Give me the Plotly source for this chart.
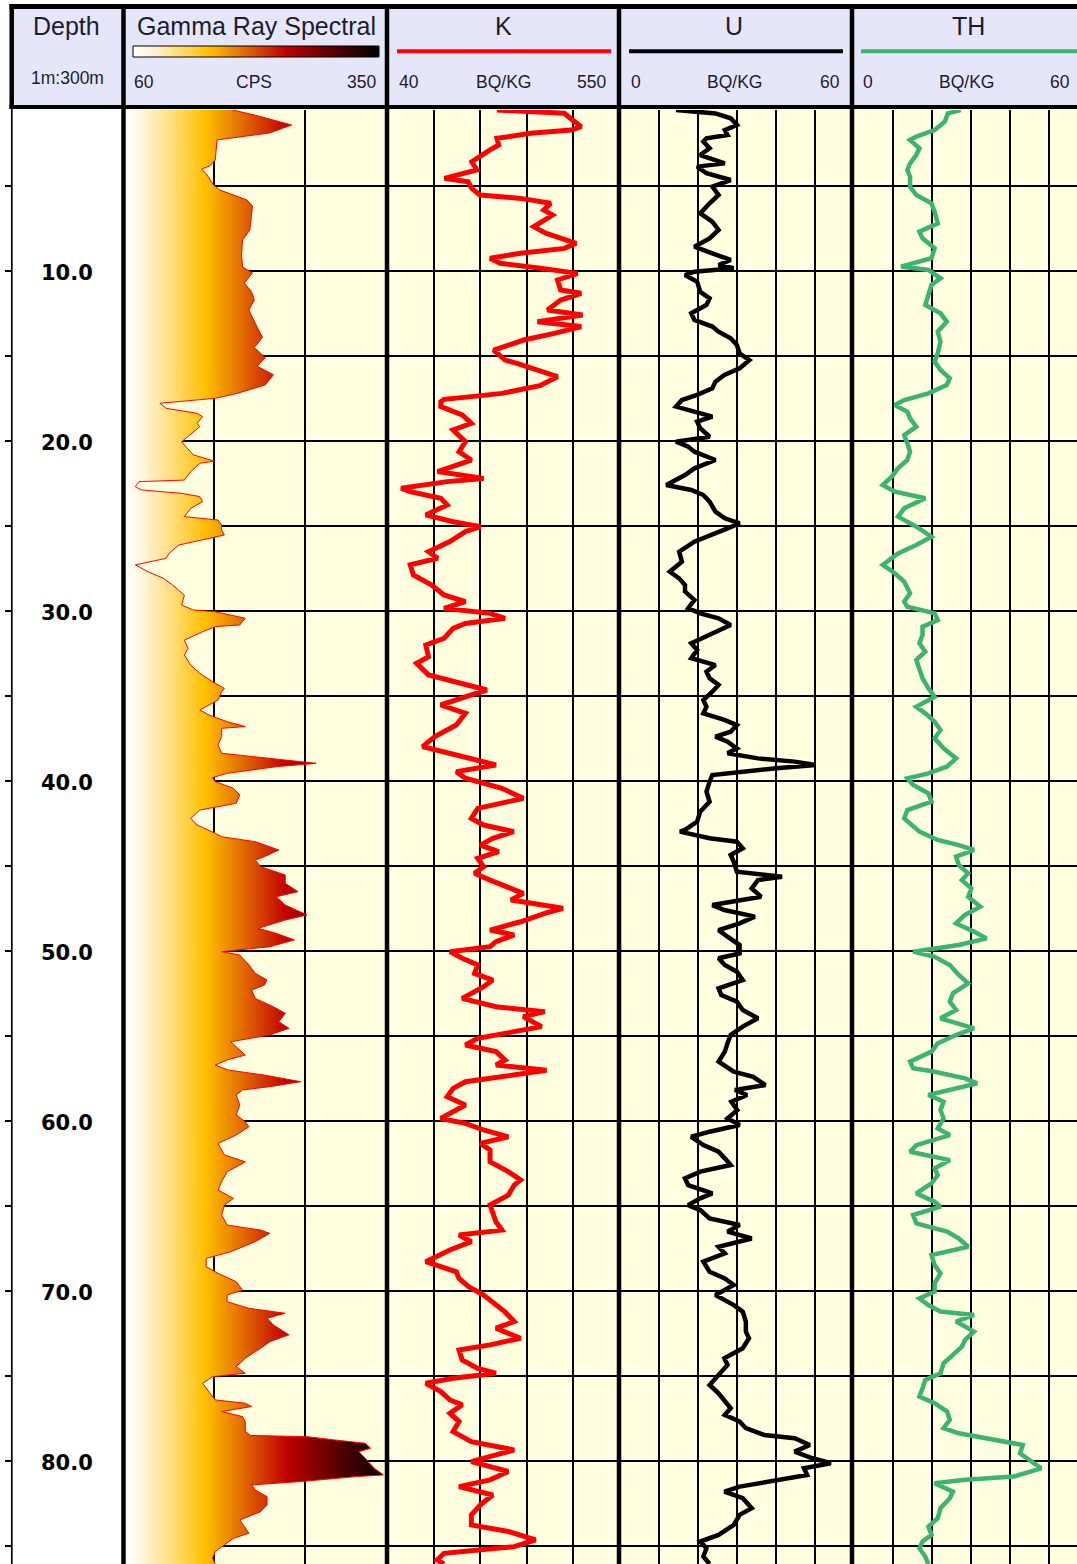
import plotly.graph_objects as go

W, H = 1077, 1564

# ---------------- data ----------------
depth_labels = [10, 20, 30, 40, 50, 60, 70, 80]
depth_top, depth_bottom = 0.53, 86.06

gr_depth = [0.53, 0.82, 1.41, 1.88, 2.29, 2.88, 3.47, 3.82, 4.0, 4.35, 4.94, 5.24, 5.82, 6.18, 7.0, 7.59, 8.18, 9.06, 9.76, 10.12,
            10.7, 11.24, 11.7, 12.3, 13.3, 13.9, 14.5, 15.1, 15.6, 16.1, 16.7, 17.2, 17.49, 17.65, 17.78, 18.08, 18.37, 18.57, 18.96, 19.16,
            19.45, 20.04, 20.24, 20.82, 21.18, 21.31, 21.8, 22.3, 22.39, 22.69, 22.88, 23.08, 23.27, 23.57, 23.96, 24.45, 24.65, 24.94, 25.24, 25.53,
            25.73, 26.12, 26.61, 26.9, 27.29, 27.69, 28.08, 28.47, 29.06, 29.65, 29.94, 30.04, 30.43, 30.82, 30.92, 31.22, 31.71, 32.2, 32.59, 33.18,
            33.67, 34.16, 34.55, 34.75, 35.24, 35.82, 36.12, 36.51, 36.8, 36.9, 37.39, 37.88, 38.37, 38.67, 38.96, 39.16, 39.55, 39.8, 40.04, 40.43,
            40.82, 41.31, 41.71, 42.2, 42.59, 43.08, 43.28, 43.57, 44.06, 44.45, 44.65, 45.04, 45.53, 46.02, 46.51, 46.81, 47.3, 47.88, 48.18, 48.67,
            48.96, 49.35, 49.75, 50.04, 50.24, 50.82, 51.31, 51.71, 52.0, 52.3, 52.79, 53.28, 53.67, 54.16, 54.55, 54.94, 55.34, 55.63, 56.12, 56.41,
            56.71, 57.0, 57.3, 57.69, 57.98, 58.18, 58.47, 59.06, 59.65, 60.04, 60.34, 60.83, 61.32, 62.0, 62.4, 62.59, 62.98, 63.57, 64.06, 64.55,
            64.95, 65.53, 66.12, 66.42, 66.61, 67.1, 67.69, 68.08, 68.57, 68.96, 69.45, 69.95, 70.24, 70.63, 71.02, 71.31, 71.6, 72.0, 72.58, 72.98,
            73.37, 73.96, 74.45, 74.84, 75.04, 75.43, 75.92, 76.41, 76.6, 76.8, 77.09, 77.39, 77.68, 78.27, 78.5, 78.57, 78.76, 78.96, 79.25, 79.45,
            79.84, 80.43, 80.82, 80.92, 81.21, 81.41, 81.7, 82.1, 82.58, 82.98, 83.47, 83.96, 84.25, 84.55, 84.94, 85.33, 85.72, 86.06]
gr_cps = [180, 204, 245, 221, 163, 162, 161, 155, 146, 152, 159, 166, 196, 202, 200, 199, 191, 190, 191, 202,
          193, 201, 204, 198, 207, 213, 204, 216, 207, 225, 216, 185, 161, 127, 100, 107, 141, 147, 141, 144,
          137, 124, 127, 137, 160, 144, 134, 127, 77, 73, 80, 124, 144, 147, 134, 127, 164, 168, 168, 171,
          154, 121, 110, 107, 73, 87, 104, 114, 127, 124, 137, 161, 194, 188, 161, 147, 127, 131, 127, 134,
          144, 158, 171, 168, 164, 144, 154, 174, 194, 168, 168, 164, 168, 221, 272, 228, 174, 158, 161, 181,
          188, 184, 144, 134, 141, 161, 168, 205, 231, 215, 205, 211, 238, 238, 252, 228, 238, 262, 238, 208,
          228, 248, 221, 168, 188, 198, 205, 218, 215, 201, 205, 225, 238, 231, 242, 221, 178, 184, 194, 174,
          161, 175, 215, 255, 221, 191, 184, 188, 184, 194, 198, 184, 164, 171, 194, 188, 174, 168, 164, 181,
          171, 168, 174, 211, 221, 205, 178, 151, 151, 164, 184, 191, 174, 174, 198, 238, 218, 225, 242, 221,
          211, 194, 184, 194, 158, 147, 154, 161, 194, 201, 168, 191, 194, 194, 200, 262, 292, 326, 332, 319,
          326, 336, 346, 316, 255, 201, 205, 218, 218, 211, 188, 194, 198, 181, 171, 161, 158, 161]

k_depth = [0.53, 0.72, 1.12, 1.51, 1.71, 1.9, 2.2, 2.59, 2.88, 3.27, 3.57, 4.06, 4.55, 4.75, 5.14, 5.53, 5.73, 6.02, 6.41, 6.71,
           7.39, 7.78, 8.18, 8.37, 8.67, 8.96, 9.25, 9.55, 9.84, 10.14, 10.53, 11.12, 11.31, 11.71, 12.29, 12.59, 12.98, 13.27, 13.67, 14.06,
           14.65, 15.24, 15.43, 16.22, 16.75, 17.2, 17.39, 17.55, 17.69, 17.98, 18.47, 18.96, 19.35, 20.04, 20.63, 21.12, 21.8, 22.2, 22.39, 22.78,
           22.98, 23.37, 23.76, 24.35, 24.75, 25.04, 25.33, 25.92, 26.51, 26.9, 27.29, 27.88, 28.47, 29.06, 29.45, 29.84, 30.14, 30.43, 30.73, 31.02,
           31.61, 32.0, 32.69, 33.08, 33.76, 34.35, 34.65, 34.94, 35.53, 36.02, 36.71, 37.39, 37.98, 38.47, 39.06, 39.45, 39.84, 40.43, 41.02, 41.61,
           42.2, 42.59, 42.98, 43.37, 43.77, 44.16, 44.55, 45.04, 45.43, 45.83, 46.22, 46.61, 47.0, 47.49, 47.79, 48.28, 48.77, 49.06, 49.45, 49.75,
           50.04, 50.43, 50.82, 51.32, 51.71, 52.1, 52.79, 53.28, 53.57, 53.86, 54.45, 54.84, 55.14, 55.53, 55.92, 56.41, 56.71, 57.02, 57.3, 57.69,
           58.08, 58.57, 59.06, 59.45, 59.85, 60.14, 60.53, 60.93, 61.32, 61.71, 62.4, 62.98, 63.47, 63.77, 64.36, 64.94, 65.34, 65.93, 66.42, 66.71,
           67.1, 67.59, 68.28, 68.87, 69.26, 69.75, 70.24, 70.83, 71.21, 71.8, 72.19, 72.78, 73.17, 73.47, 74.06, 74.55, 74.84, 75.13, 75.43, 75.92,
           76.41, 76.7, 77.19, 77.68, 78.27, 78.86, 79.35, 79.64, 80.04, 80.62, 81.11, 81.51, 82.0, 82.58, 83.17, 83.76, 84.15, 84.64, 85.04, 85.43,
           85.82, 86.06]
k_bqkg = [281, 429, 447, 466, 444, 355, 281, 285, 266, 244, 226, 237, 166, 218, 226, 244, 333, 399, 384, 403,
          362, 388, 436, 455, 429, 333, 266, 288, 377, 458, 414, 421, 466, 421, 392, 469, 370, 466, 407, 340,
          274, 299, 325, 414, 375, 292, 225, 165, 158, 158, 205, 225, 185, 212, 198, 225, 151, 252, 172, 71,
          91, 158, 172, 125, 185, 245, 212, 178, 131, 151, 91, 98, 138, 165, 212, 165, 266, 299, 212, 185,
          165, 125, 131, 105, 131, 212, 259, 225, 158, 212, 192, 145, 118, 192, 279, 192, 212, 292, 339, 239,
          225, 252, 318, 272, 245, 285, 239, 252, 232, 266, 306, 339, 312, 426, 386, 333, 266, 319, 279, 266,
          178, 205, 239, 232, 272, 252, 205, 279, 386, 339, 379, 306, 239, 212, 279, 299, 279, 390, 319, 212,
          185, 172, 212, 185, 158, 212, 252, 306, 245, 266, 266, 306, 333, 319, 306, 266, 272, 279, 292, 198,
          225, 178, 125, 192, 198, 219, 252, 279, 298, 319, 279, 333, 266, 198, 205, 239, 279, 185, 125, 158,
          178, 205, 178, 198, 185, 225, 319, 279, 225, 306, 266, 198, 272, 245, 225, 225, 306, 366, 319, 165,
          150, 165]

u_depth = [0.53, 0.73, 1.02, 1.41, 1.71, 2.0, 2.2, 2.39, 2.78, 3.18, 3.67, 3.86, 4.25, 4.65, 5.04, 5.53, 6.02, 6.61, 7.1, 7.59,
           8.08, 8.57, 8.96, 9.35, 9.65, 9.84, 10.04, 10.24, 10.63, 11.22, 11.61, 12.0, 12.49, 12.88, 13.27, 13.57, 13.96, 14.35, 14.84, 15.24,
           15.73, 16.12, 16.51, 16.9, 17.29, 17.59, 17.98, 18.28, 18.57, 18.86, 19.25, 19.75, 20.04, 20.33, 20.63, 21.12, 21.61, 22.0, 22.59, 22.88,
           23.18, 23.57, 24.16, 24.55, 24.84, 25.14, 25.53, 25.92, 26.51, 27.1, 27.69, 28.08, 28.47, 28.86, 29.35, 29.84, 30.14, 30.43, 30.82, 31.22,
           31.61, 31.9, 32.29, 32.78, 33.18, 33.57, 33.96, 34.35, 34.75, 35.24, 35.63, 36.02, 36.41, 36.71, 37.1, 37.39, 37.69, 38.08, 38.37, 38.67,
           38.86, 39.06, 39.25, 39.65, 40.04, 40.63, 41.22, 41.8, 42.39, 42.88, 42.98, 43.37, 43.57, 43.96, 44.35, 44.75, 45.34, 45.63, 45.83, 46.32,
           46.81, 47.3, 47.59, 47.98, 48.37, 48.77, 49.16, 49.65, 50.14, 50.43, 50.82, 51.22, 51.71, 52.2, 52.59, 52.98, 53.47, 53.96, 54.45, 54.94,
           55.43, 55.92, 56.51, 57.1, 57.4, 57.89, 58.18, 58.47, 58.87, 59.36, 59.85, 60.24, 60.63, 60.93, 61.42, 61.81, 62.2, 62.59, 62.98, 63.38,
           63.77, 64.26, 64.55, 64.95, 65.24, 65.73, 66.12, 66.51, 66.91, 67.4, 67.79, 68.28, 68.87, 69.26, 69.65, 70.24, 70.83, 71.21, 71.8, 72.39,
           72.78, 73.37, 73.96, 74.35, 74.94, 75.53, 76.02, 76.51, 76.9, 77.29, 77.68, 78.07, 78.47, 78.66, 79.06, 79.45, 79.84, 80.13, 80.43, 80.82,
           81.21, 81.51, 81.8, 82.19, 82.78, 83.17, 83.76, 84.35, 84.74, 85.13, 85.62, 86.06]
u_bqkg = [14.5, 24.6, 28.5, 30.1, 27.0, 27.7, 22.3, 21.5, 23.1, 20.7, 27.0, 19.9, 22.3, 28.5, 23.8, 25.4, 23.1, 20.7, 23.8, 25.4,
          23.1, 19.2, 23.8, 28.5, 25.4, 29.3, 19.2, 16.8, 19.9, 20.7, 23.1, 22.3, 18.4, 19.2, 23.8, 25.4, 28.5, 30.1, 30.8, 33.3,
          30.8, 26.9, 24.6, 23.8, 19.9, 16.0, 14.5, 19.2, 23.8, 19.9, 20.7, 23.1, 14.5, 17.6, 19.2, 24.6, 19.2, 16.8, 12.0, 18.4,
          21.5, 23.1, 24.6, 27.0, 30.8, 27.7, 23.1, 19.2, 15.3, 16.0, 12.9, 15.3, 16.8, 16.8, 19.2, 17.6, 20.7, 25.4, 28.5, 24.6,
          20.7, 18.4, 19.9, 18.4, 24.6, 22.3, 23.1, 25.4, 23.8, 21.5, 22.3, 21.5, 26.9, 30.1, 28.5, 24.6, 27.7, 30.1, 27.7, 35.5,
          44.9, 50.3, 40.2, 23.8, 23.1, 22.3, 23.1, 20.7, 19.9, 16.8, 15.5, 23.1, 30.1, 31.6, 28.5, 29.3, 30.1, 41.7, 35.5, 33.9,
          36.3, 23.8, 26.9, 34.7, 30.8, 25.4, 27.7, 30.8, 30.8, 25.4, 27.0, 30.1, 31.6, 25.4, 26.1, 30.1, 31.6, 35.5, 31.6, 28.5,
          27.7, 27.0, 25.4, 29.3, 34.3, 37.4, 29.6, 32.7, 28.7, 30.2, 27.7, 30.8, 23.1, 18.4, 21.5, 25.4, 27.0, 28.5, 20.7, 16.8,
          17.6, 23.8, 20.7, 17.6, 20.7, 23.1, 30.8, 27.7, 33.9, 25.4, 27.0, 21.5, 23.1, 27.0, 29.3, 24.6, 29.3, 31.6, 32.4, 32.4,
          33.2, 31.6, 26.9, 27.7, 25.4, 23.1, 25.4, 27.0, 28.5, 27.0, 30.8, 32.4, 37.1, 44.9, 48.8, 44.9, 49.5, 54.2, 47.3, 48.1,
          38.6, 30.8, 26.9, 31.6, 33.9, 30.8, 29.3, 25.4, 20.7, 22.3, 21.5, 23.1]

th_depth = [0.53, 0.73, 1.22, 1.71, 2.1, 2.29, 2.78, 3.18, 3.67, 4.06, 4.45, 5.04, 5.53, 6.02, 6.51, 7.2, 7.69, 8.08, 8.67, 9.25,
            9.74, 9.94, 10.43, 10.82, 11.41, 12.0, 12.49, 12.98, 13.57, 14.16, 14.84, 15.33, 15.82, 16.31, 16.71, 17.2, 17.59, 17.88, 18.28, 18.67,
            19.16, 19.65, 20.14, 20.63, 21.12, 21.61, 22.1, 22.59, 22.98, 23.37, 23.96, 24.45, 25.04, 25.63, 26.12, 26.61, 27.29, 27.78, 28.28, 28.96,
            29.45, 29.75, 30.14, 30.53, 30.92, 31.41, 31.9, 32.39, 32.88, 33.37, 33.96, 34.55, 35.04, 35.63, 36.02, 36.51, 37.0, 37.49, 38.08, 38.67,
            39.16, 39.55, 39.84, 40.23, 40.73, 41.22, 41.71, 42.2, 42.69, 42.98, 43.47, 43.77, 44.06, 44.45, 44.94, 45.43, 45.83, 46.32, 46.81, 47.39,
            47.88, 48.38, 48.86, 49.26, 49.65, 50.04, 50.34, 50.83, 51.41, 51.9, 52.49, 52.98, 53.47, 53.96, 54.55, 54.94, 55.43, 55.92, 56.51, 56.9,
            57.1, 57.49, 57.79, 58.18, 58.47, 58.87, 59.36, 59.85, 60.44, 60.83, 61.42, 61.81, 62.3, 62.79, 63.18, 63.67, 64.26, 64.75, 65.04, 65.53,
            66.02, 66.51, 66.91, 67.4, 67.89, 68.47, 68.96, 69.55, 70.04, 70.44, 70.83, 71.21, 71.41, 71.8, 72.39, 72.88, 73.27, 73.76, 74.25, 74.84,
            75.23, 75.72, 76.21, 76.6, 77.09, 77.58, 78.07, 78.37, 78.66, 79.06, 79.55, 79.94, 80.43, 80.92, 81.11, 81.31, 81.8, 82.19, 82.78, 83.37,
            83.86, 84.35, 84.74, 85.13, 85.62, 86.06]
th_bqkg = [27.5, 24.2, 23.4, 20.8, 16.1, 14.5, 16.9, 16.1, 14.5, 13.8, 14.5, 14.5, 16.1, 20.0, 20.8, 21.6, 16.9, 17.7, 20.8, 20.0,
           12.2, 19.2, 22.3, 20.0, 19.2, 18.4, 22.3, 23.9, 21.6, 22.3, 21.6, 20.8, 22.3, 24.7, 23.9, 19.2, 13.0, 10.6, 13.8, 14.5,
           16.1, 13.0, 13.8, 14.5, 13.8, 11.4, 9.8, 7.5, 10.6, 18.4, 13.0, 11.4, 16.1, 20.0, 16.1, 11.4, 7.5, 10.6, 13.0, 14.5,
           13.0, 13.8, 20.8, 21.6, 17.7, 17.7, 16.9, 18.4, 16.1, 16.9, 17.7, 19.2, 20.8, 16.1, 18.4, 20.8, 22.3, 20.8, 23.1, 26.3,
           23.9, 19.2, 13.8, 15.3, 19.2, 20.0, 13.8, 13.0, 15.3, 16.9, 21.6, 27.0, 30.9, 26.3, 27.0, 29.4, 27.8, 30.2, 29.4, 32.5,
           28.6, 26.3, 30.9, 34.1, 27.0, 15.3, 20.8, 24.7, 27.0, 29.4, 25.5, 24.7, 26.3, 22.3, 30.9, 26.3, 21.6, 20.0, 14.5, 15.3,
           20.8, 28.6, 31.7, 24.0, 19.2, 23.1, 22.3, 23.1, 21.6, 24.7, 16.1, 14.5, 24.7, 20.8, 21.6, 20.0, 16.1, 20.8, 22.3, 15.3,
           16.1, 24.0, 27.0, 29.4, 20.0, 20.8, 22.3, 20.8, 20.8, 16.9, 19.2, 22.3, 30.9, 26.3, 30.9, 28.6, 27.8, 25.5, 23.1, 22.3,
           18.4, 17.7, 16.9, 20.8, 24.0, 24.7, 23.1, 27.0, 33.3, 43.4, 42.7, 45.0, 48.1, 41.1, 28.6, 20.8, 25.5, 24.7, 22.3, 21.6,
           19.2, 20.0, 17.7, 16.9, 18.4, 19.2]

gr_scale = [60, 350]
k_scale = [40, 550]
u_scale = [0, 60]
th_scale = [0, 60]

# ---------------- styling ----------------
FONT = "Liberation Sans, Arial, sans-serif"
TXT = "#1c1c2c"
HEADER_BG = "#E6E6FA"
TRACK_BG = "#FFFFE0"
GRID = "#000000"
K_COL, U_COL, TH_COL = "#FF0000", "#000000", "#3CB371"
GR_SCALE = [[0.0, "#FFFFFF"], [0.08, "#FFF4D8"], [0.2, "#FFDA6A"], [0.31, "#FFC000"],
            [0.45, "#E26C00"], [0.62, "#C00000"], [0.8, "#5E0000"], [1.0, "#000000"]]


def px(x):
    return x / W


def py(y):
    return 1 - y / H


ytop = py(110)
# track edges in pixels
GR_L, GR_R = 123.5, 387.0
K_L, K_R = 387.0, 619.5
U_L, U_R = 619.5, 853.5
TH_L = 853.5
th_visible_max = th_scale[1] * (W - TH_L) / (U_R - U_L)

fig = go.Figure()

# gamma ray with gradient fill
fig.add_trace(go.Scatter(
    x=gr_cps, y=gr_depth, xaxis="x2", yaxis="y2", mode="lines",
    line=dict(color="#FF0000", width=1),
    fill="tozerox",
    fillgradient=dict(type="horizontal", colorscale=GR_SCALE, start=gr_scale[0], stop=gr_scale[1])))

fig.add_trace(go.Scatter(x=k_bqkg, y=k_depth, xaxis="x3", yaxis="y3", mode="lines",
                         line=dict(color=K_COL, width=5)))
fig.add_trace(go.Scatter(x=u_bqkg, y=u_depth, xaxis="x4", yaxis="y4", mode="lines",
                         line=dict(color=U_COL, width=4.5)))
fig.add_trace(go.Scatter(x=th_bqkg, y=th_depth, xaxis="x5", yaxis="y5", mode="lines",
                         line=dict(color=TH_COL, width=4.5)))

# header colour bar
cb_l, cb_r = 133, 379
cb_t, cb_b = 46, 57
upx = (cb_r - cb_l) / (gr_scale[1] - gr_scale[0])
fig.add_trace(go.Scatter(
    x=[gr_scale[0], gr_scale[1], gr_scale[1], gr_scale[0], gr_scale[0]], y=[0, 0, 1, 1, 0],
    xaxis="x6", yaxis="y6", mode="lines", line=dict(color="#000", width=1),
    fill="toself",
    fillgradient=dict(type="horizontal", colorscale=GR_SCALE, start=gr_scale[0], stop=gr_scale[1]),
    hoverinfo="skip"))

common_y = dict(domain=[0, ytop], range=[depth_bottom, depth_top], showticklabels=False,
                zeroline=False, tickmode="linear", tick0=0, dtick=5)
hidden = dict(visible=False, showgrid=False, zeroline=False)


def track_x(l, r, rng, vals):
    return dict(domain=[px(l), px(r)], range=rng, tickmode="array", tickvals=vals,
                showgrid=True, gridcolor=GRID, gridwidth=1.5, showticklabels=False,
                ticks="", zeroline=False, showline=False)


layout = dict(
    width=W, height=H, margin=dict(l=0, r=0, t=0, b=0),
    paper_bgcolor="#FFFFFF", plot_bgcolor="rgba(0,0,0,0)", showlegend=False,
    xaxis=dict(domain=[px(12), px(122)], range=[0, 1], anchor="y", **hidden),
    yaxis=dict(anchor="x", showgrid=False, ticks="outside", ticklen=6, tickwidth=1.5,
               tickcolor="#000", **common_y),
    xaxis2=dict(anchor="y2", **track_x(GR_L, GR_R, gr_scale, [160, 260])),
    yaxis2=dict(anchor="x2", showgrid=True, gridcolor=GRID, gridwidth=1.5, ticks="", **common_y),
    xaxis3=dict(anchor="y3", **track_x(K_L, K_R, k_scale, [142, 244, 346, 448])),
    yaxis3=dict(anchor="x3", showgrid=True, gridcolor=GRID, gridwidth=1.5, ticks="", **common_y),
    xaxis4=dict(anchor="y4", **track_x(U_L, U_R, u_scale, [10, 20, 30, 40, 50])),
    yaxis4=dict(anchor="x4", showgrid=True, gridcolor=GRID, gridwidth=1.5, ticks="", **common_y),
    xaxis5=dict(anchor="y5", **track_x(TH_L, W, [th_scale[0], th_visible_max], [10, 20, 30, 40, 50])),
    yaxis5=dict(anchor="x5", showgrid=True, gridcolor=GRID, gridwidth=1.5, ticks="", **common_y),
    xaxis6=dict(anchor="y6", domain=[px(cb_l - 2), px(cb_r + 2)],
                range=[gr_scale[0] - 2 / upx, gr_scale[1] + 2 / upx], **hidden),
    yaxis6=dict(anchor="x6", domain=[py(cb_b + 2), py(cb_t - 2)],
                range=[-2 / (cb_b - cb_t), 1 + 2 / (cb_b - cb_t)], **hidden),
)
fig.update_layout(**layout)

shapes = []
# backgrounds
shapes.append(dict(type="rect", xref="paper", yref="paper", x0=px(123), x1=1, y0=0, y1=py(108),
                   fillcolor=TRACK_BG, line=dict(width=0), layer="below"))
shapes.append(dict(type="rect", xref="paper", yref="paper", x0=px(11.5), x1=1, y0=py(107), y1=py(6.5),
                   fillcolor=HEADER_BG, line=dict(width=0), layer="below"))


def hline(y, x0, x1, w, c="#000"):
    shapes.append(dict(type="line", xref="paper", yref="paper", x0=px(x0), x1=px(x1), y0=py(y), y1=py(y),
                       line=dict(color=c, width=w), layer="above"))


def vline(x, y0, y1, w, c="#000"):
    shapes.append(dict(type="line", xref="paper", yref="paper", x0=px(x), x1=px(x), y0=py(y0), y1=py(y1),
                       line=dict(color=c, width=w), layer="above"))


hline(6.5, 9.5, W, 5)
hline(107, 9.5, W, 4)
vline(11.7, 4, 109, 4.5)
vline(11.8, 107, H, 1.7)
for sx in [123.5, 387.0, 619.0, 852.0]:
    vline(sx, 4, H, 4.5)
# curve legend lines in header
hline(51.3, 397, 611, 4, K_COL)
hline(51.3, 629, 843, 4, U_COL)
hline(51.3, 861, W, 4, TH_COL)

fig.update_layout(shapes=shapes)

ann = []

# depth labels, placed on the depth axis
for d in depth_labels:
    ann.append(dict(text=f"{d:.1f}", x=0.5, y=d, xref="x", yref="y", showarrow=False,
                    xanchor="center", yanchor="middle", yshift=-2,
                    font=dict(family="DejaVu Sans", size=21, color="#000", weight="bold")))


def text(t, x, y, size, anchor="center"):
    ann.append(dict(text=t, x=px(x), y=py(y), xref="paper", yref="paper", showarrow=False,
                    xanchor=anchor, yanchor="middle", font=dict(family=FONT, size=size, color=TXT)))


text("Depth", 66, 26, 25)
text("1m:300m", 67, 78, 17.5)
text("Gamma Ray Spectral", 256, 26, 25)
text(str(gr_scale[0]), 132, 82, 17.5, "left")
text("CPS", 254, 82, 17.5)
text(str(gr_scale[1]), 378, 82, 17.5, "right")
text("K", 503, 26, 25)
text(str(k_scale[0]), 397, 82, 17.5, "left")
text("BQ/KG", 503, 82, 17.5)
text(str(k_scale[1]), 608, 82, 17.5, "right")
text("U", 734, 26, 25)
text(str(u_scale[0]), 629, 82, 17.5, "left")
text("BQ/KG", 734, 82, 17.5)
text(str(u_scale[1]), 842, 82, 17.5, "right")
text("TH", 968, 26, 25)
text(str(th_scale[0]), 861, 82, 17.5, "left")
text("BQ/KG", 966, 82, 17.5)
text(str(th_scale[1]), 1072, 82, 17.5, "right")
fig.update_layout(annotations=ann)

fig.write_html("out.html", config={"displayModeBar": False},
               post_script="document.body.style.margin='0px';")
